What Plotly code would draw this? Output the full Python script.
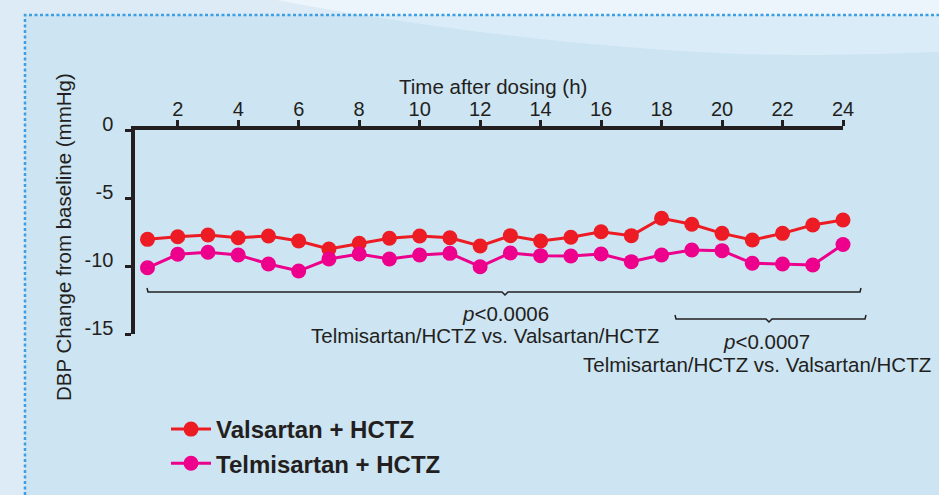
import plotly.graph_objects as go

W, H = 939, 495

# data (hours after dosing, DBP change in mmHg)
hours = list(range(1, 25))
valsartan = [-8.04, -7.85, -7.72, -7.92, -7.79, -8.16, -8.75, -8.33, -7.96, -7.79, -7.92, -8.53,
             -7.77, -8.16, -7.89, -7.48, -7.77, -6.49, -6.93, -7.60, -8.09, -7.60, -6.99, -6.62]
telmisartan = [-10.13, -9.14, -8.99, -9.19, -9.85, -10.37, -9.49, -9.12, -9.49, -9.19, -9.07, -10.05,
               -9.04, -9.24, -9.26, -9.12, -9.68, -9.19, -8.82, -8.87, -9.80, -9.85, -9.93, -8.42]

x_ticks = [2, 4, 6, 8, 10, 12, 14, 16, 18, 20, 22, 24]
y_ticks = [-15, -10, -5, 0]
y_ticktext = ["-15", "-10", "-5", "0"]

INK = "#231f20"
FONT = "Liberation Sans, Arial, sans-serif"


def px(x):
    return x / W


def py(y):
    return 1 - y / H


def pt(x, y):
    return f"{px(x):.5f},{py(y):.5f}"


def polyline(points):
    # pixel points -> paper path, one command per point
    return "M" + pt(*points[0]) + "".join(" L" + pt(*p) for p in points[1:])


fig = go.Figure()

fig.add_trace(go.Scatter(
    x=hours, y=valsartan, mode="lines+markers", name="<b>Valsartan + HCTZ</b>",
    line=dict(color="#ed1c24", width=3),
    marker=dict(color="#ed1c24", size=15),
    cliponaxis=False, legendgroup="a",
))
fig.add_trace(go.Scatter(
    x=hours, y=telmisartan, mode="lines+markers", name="<b>Telmisartan + HCTZ</b>",
    line=dict(color="#ec008c", width=3),
    marker=dict(color="#ec008c", size=15),
    cliponaxis=False, legendgroup="b",
))

swoosh = ("M" + pt(277, 0)
          + " C" + pt(420, 28) + " " + pt(640, 55) + " " + pt(800, 55)
          + " C" + pt(860, 55) + " " + pt(900, 53) + " " + pt(939, 52)
          + " L" + pt(939, 0) + " Z")

shapes = [
    # light swoosh at the top
    dict(type="path", xref="paper", yref="paper", layer="below", line=dict(width=0),
         fillcolor="#edf5fc", path=swoosh),
    # inner panel
    dict(type="rect", xref="paper", yref="paper", layer="below", line=dict(width=0),
         fillcolor="rgba(145,200,231,0.2)",
         x0=px(25), x1=1, y0=0, y1=py(15)),
    # dotted border (top and left edges only)
    dict(type="path", xref="paper", yref="paper", layer="below",
         line=dict(color="#3d9ee1", width=2.5, dash="3px,2.5px"),
         path=polyline([(25, 495), (25, 15), (939, 15)])),
    # brace 1
    dict(type="path", xref="paper", yref="paper", line=dict(color=INK, width=1.5),
         path=polyline([(147, 288), (148, 292), (502, 292), (505, 295), (508, 292),
                        (860, 292), (861, 288)])),
    # brace 2
    dict(type="path", xref="paper", yref="paper", line=dict(color=INK, width=1.5),
         path=polyline([(675, 315), (676, 319), (766, 319), (769, 322), (772, 319),
                        (865, 319), (866, 315)])),
]

annotations = [
    dict(text="Time after dosing (h)", x=px(493), y=py(86)),
    dict(text="DBP Change from baseline (mmHg)", x=px(63), y=py(237), textangle=-90),
    dict(text="<i>p</i>&lt;0.0006", x=px(505), y=py(313)),
    dict(text="Telmisartan/HCTZ vs. Valsartan/HCTZ", x=px(485), y=py(335)),
    dict(text="<i>p</i>&lt;0.0007", x=px(766), y=py(341)),
    dict(text="Telmisartan/HCTZ vs. Valsartan/HCTZ", x=px(757), y=py(364)),
]
for a in annotations:
    a.update(xref="paper", yref="paper", showarrow=False, xanchor="center", yanchor="middle",
             font=dict(family=FONT, size=20.5, color=INK))

fig.update_layout(
    width=W, height=H, autosize=False,
    margin=dict(l=0, r=0, t=0, b=0, pad=0, autoexpand=False),
    paper_bgcolor="#dcebf6",
    plot_bgcolor="rgba(0,0,0,0)",
    font=dict(family=FONT, size=20, color=INK),
    shapes=shapes,
    annotations=annotations,
    xaxis=dict(
        domain=[px(135.4), px(843)], range=[0.6, 24], side="top",
        showline=True, linecolor=INK, linewidth=4,
        ticks="outside", ticklen=6, tickwidth=3, tickcolor=INK,
        tickvals=x_ticks, showgrid=False, zeroline=False, automargin=False,
        tickfont=dict(size=20, color=INK), ticklabelstandoff=-4,
    ),
    yaxis=dict(
        domain=[py(334), py(130)], range=[-15, 0],
        showline=True, linecolor=INK, linewidth=4,
        ticks="outside", ticklen=6, tickwidth=3, tickcolor=INK,
        tickvals=y_ticks, ticktext=y_ticktext, showgrid=False, zeroline=False, automargin=False,
        tickfont=dict(size=20, color=INK), ticklabelshift=-6, ticklabelstandoff=8,
    ),
    showlegend=True,
    legend=dict(
        x=px(166), y=py(407), xanchor="left", yanchor="top",
        bgcolor="rgba(0,0,0,0)", borderwidth=0,
        font=dict(family=FONT, size=24, color=INK),
        traceorder="grouped", tracegroupgap=0, itemwidth=40,
    ),
)

fig.write_html("out.html", config={"displayModeBar": False},
               post_script="document.body.style.margin = '0';")
